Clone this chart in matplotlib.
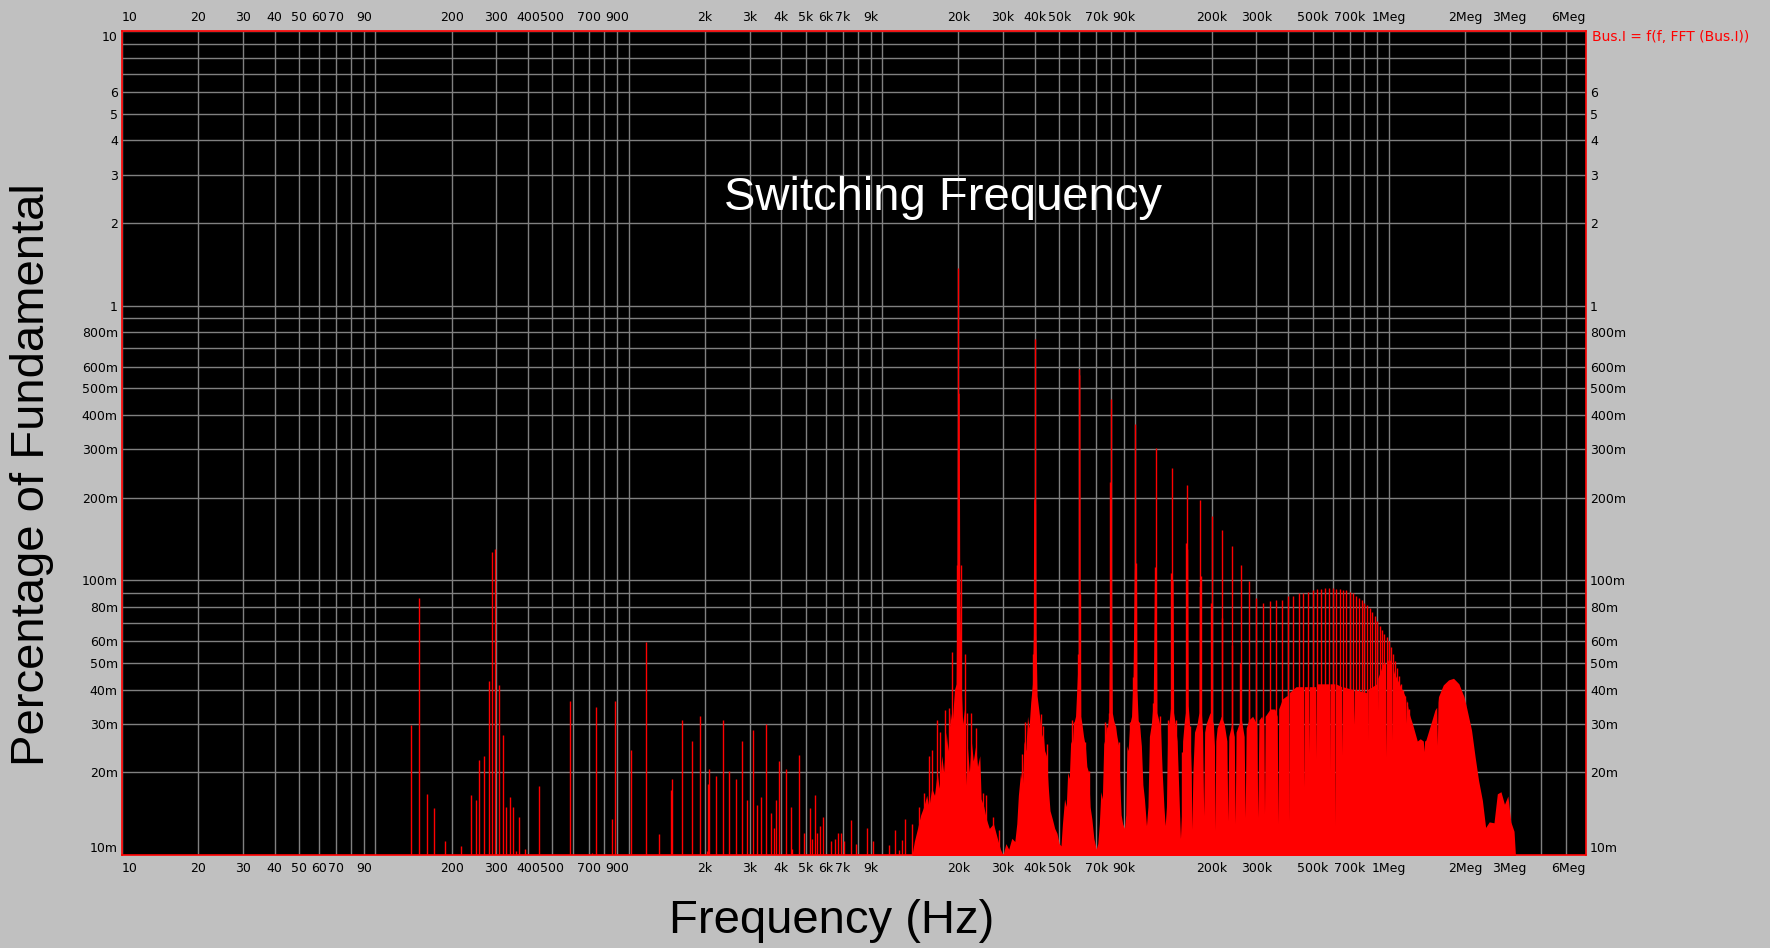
import numpy as np
import matplotlib.pyplot as plt
from matplotlib.ticker import FixedLocator, LogLocator, NullFormatter

# ---- data ----
# single lines below the switching band (Hz, fraction of fundamental)
low_freq = [138, 148.6, 160, 170.4, 188, 218.4, 238, 249, 256.5, 268.5, 280.6,
            289.3, 297.7, 307.7, 320.3, 329, 338.7, 348.8, 358, 368.5, 388.6,
            442.5, 586, 718, 742, 857, 885, 1022, 1171, 1319, 1462, 1480, 1620,
            1777, 1904, 2040, 2052, 2082, 2213, 2345, 2493, 2646, 2808, 2917,
            3080, 3196, 3340, 3485, 3640, 3750, 3810, 3925, 4163, 4360, 4400,
            4705, 4918, 5193, 5270, 5430, 5510, 5670, 5830, 6300, 6490, 6680,
            6880, 7090, 7510, 7860, 8700, 9220, 10660, 11200, 11700, 12000,
            12300, 13100, 13600, 14000, 14200, 14600, 14900]
low_mag = [0.0297, 0.086, 0.0167, 0.0148, 0.0112, 0.0108, 0.0165, 0.0158, 0.0222,
           0.0229, 0.0429, 0.127, 0.130, 0.0417, 0.0273, 0.015, 0.0163, 0.015,
           0.0103, 0.0138, 0.0105, 0.0179, 0.0364, 0.0102, 0.0345, 0.0135, 0.0364,
           0.0242, 0.0594, 0.0119, 0.0172, 0.0189, 0.0309, 0.0259, 0.0322, 0.0103,
           0.0181, 0.0205, 0.0194, 0.0309, 0.0202, 0.0189, 0.0259, 0.0158, 0.0285,
           0.0152, 0.0162, 0.0300, 0.0142, 0.0125, 0.0158, 0.0220, 0.0205, 0.0150,
           0.0105, 0.0232, 0.0120, 0.0148, 0.0114, 0.0165, 0.0120, 0.0127, 0.0138,
           0.0112, 0.0114, 0.0120, 0.0120, 0.0112, 0.0134, 0.0110, 0.0125, 0.0112,
           0.0109, 0.0123, 0.0104, 0.0113, 0.0135, 0.0130, 0.0113, 0.0150, 0.0135,
           0.0168, 0.0146]

# harmonics of the 20 kHz switching frequency (kHz)
harm_khz = [20, 40, 60, 80, 100, 120, 140, 160, 180, 200, 220, 240, 260, 280,
            300, 320, 340, 360, 380, 400, 420, 440, 460, 480, 500, 520, 540,
            560, 580, 600, 620, 640, 660, 680, 700, 720, 740, 760, 780, 800,
            820, 840, 860, 880, 900, 920, 940, 960, 980, 1000, 1020, 1040, 1060,
            1080, 1100, 1120, 1140, 1160, 1180, 1200]
harm_mag = [1.37, 0.758, 0.59, 0.457, 0.371, 0.304, 0.256, 0.222, 0.196, 0.172,
            0.152, 0.133, 0.114, 0.0997, 0.086, 0.0824, 0.084, 0.0845, 0.085,
            0.088, 0.088, 0.090, 0.090, 0.091, 0.092, 0.093, 0.093, 0.094, 0.094,
            0.094, 0.093, 0.093, 0.092, 0.092, 0.091, 0.090, 0.088, 0.086, 0.085,
            0.083, 0.081, 0.079, 0.077, 0.074, 0.071, 0.068, 0.066, 0.064, 0.062,
            0.060, 0.057, 0.054, 0.051, 0.048, 0.045, 0.042, 0.040, 0.038, 0.036,
            0.034]

# sideband lines around the harmonics (kHz)
side_khz = [15.3, 15.8, 16.5, 17.0, 17.7, 18.3, 18.8, 19.7, 20.4, 21.2, 21.7,
            22.5, 23.5, 25.1, 25.8, 27.5, 28.8, 35.5, 36.6, 39.3, 40.6, 42.4,
            43.3, 44.6, 56.3, 57.0, 59.3, 60.4, 63.4, 65.3, 76.1, 78.4, 79.3,
            83.3, 85.8, 95.4, 98.0, 100.7, 103.0, 117.0, 119.5, 125.0, 135.0,
            138.0, 144.0, 153.0, 158.5, 164.0, 180.8, 199.5, 219.5, 239.5,
            259.5, 279.5]
side_mag = [0.023, 0.0241, 0.031, 0.028, 0.0337, 0.0342, 0.055, 0.114, 0.114,
            0.054, 0.033, 0.033, 0.029, 0.0168, 0.0166, 0.0138, 0.0123, 0.0234,
            0.0305, 0.054, 0.0365, 0.0326, 0.0295, 0.0254, 0.031, 0.0305, 0.054,
            0.089, 0.0258, 0.0202, 0.0305, 0.033, 0.228, 0.0295, 0.0258, 0.0305,
            0.0445, 0.116, 0.0305, 0.0359, 0.112, 0.032, 0.031, 0.106, 0.031,
            0.0238, 0.137, 0.0295, 0.104, 0.083, 0.073, 0.058, 0.050, 0.040]

# outline of the solid (densely packed) part of the spectrum (kHz)
fill_khz = [
    # skirt around 20k
    13.0, 13.4, 13.8, 14.2, 14.6, 15.0, 15.3, 15.7, 16.1, 16.5, 16.8, 17.2,
    17.5, 17.9, 18.2, 18.6, 18.9, 19.3, 19.6, 19.75, 19.85, 20.15, 20.25, 20.5,
    20.8, 21.1, 21.4, 21.7, 22.1, 22.5, 22.9, 23.4, 23.8, 24.3, 24.6, 25.2,
    25.8, 26.5, 27.5, 28.5, 29.3, 30.0, 30.8, 31.6, 32.5, 33.4, 34.0,
    # 40k
    34.5, 35.2, 35.8, 36.3, 36.9, 37.5, 38.0, 38.6, 39.2, 39.5, 39.65, 40.35,
    40.5, 40.9, 41.5, 42.0, 42.6, 43.2, 43.8, 44.5, 45.2, 46.0, 47.0, 48.0,
    49.0, 50.0, 50.8,
    # 60k
    51.5, 52.5, 53.3, 54.0, 54.8, 55.5, 56.3, 57.0, 58.0, 59.0, 59.5, 59.65,
    60.3, 60.5, 60.8, 61.5, 62.4, 63.4, 64.3, 65.3, 66.2, 67.3, 68.5, 70.0, 71.0,
    # 80k
    72.0, 73.0, 74.0, 75.0, 75.8, 76.5, 77.5, 78.4, 79.0, 79.2, 80.3, 80.6,
    81.0, 82.0, 83.3, 84.5, 85.8, 86.8, 87.8, 89.0, 90.5,
    # 100k .. 180k
    91.5, 92.5, 93.5, 95.0, 96.5, 97.8, 99.0, 100.9, 101.3, 102.5, 104.0, 105.5,
    107.0, 108.5, 110.5, 112.0, 113.5, 115.5, 117.5, 118.8, 120.8, 121.5, 123.5,
    125.5, 127.5, 129.5, 131.0, 132.5, 134.0, 136.5, 137.8, 138.3, 140.8, 141.5,
    143.5, 146.0, 148.0, 150.5, 152.0, 153.5, 156.0, 157.5, 157.9, 160.8, 161.5,
    163.5, 166.0, 167.0, 168.5, 171.0, 175.0, 178.0, 178.6, 181.3, 182.0, 184.0,
    185.9,
    # 200k .. 1.2Meg
    187.5, 190, 197, 203, 205, 206.2, 207.5, 210, 218, 224, 229.5, 231.5, 233.5,
    240, 245.5, 247.5, 249.5, 256, 262, 268.5, 271, 273.5, 280, 290, 301, 304,
    307, 315, 321, 323, 325, 340, 355, 362.5, 365, 367.5, 380, 395, 399.5, 402,
    404.5, 430, 458, 461, 464, 481, 483, 485, 514, 516, 518, 580, 583, 586, 612,
    615, 618, 651, 654, 657, 723, 727, 731, 816, 821, 826, 895, 900, 905, 950,
    971, 977, 983, 1000, 1026, 1032, 1038, 1050, 1100, 1158, 1165, 1172, 1200,
    # roll-off and the 2Meg hump
    1240, 1295, 1330, 1368, 1376, 1384, 1400, 1480, 1520, 1545, 1554, 1563,
    1570, 1640, 1720, 1800, 1890, 1980, 2030, 2120, 2190, 2260, 2340, 2410,
    2490, 2600, 2680, 2770, 2860, 2950, 3030, 3120, 3160, 3170]
fill_mag = [
    0.0095, 0.0112, 0.0125, 0.0140, 0.0150, 0.0165, 0.0150, 0.0175, 0.0165,
    0.0200, 0.0175, 0.0230, 0.0200, 0.0280, 0.0240, 0.0330, 0.0300, 0.0400,
    0.0420, 0.1000, 0.4800, 0.4800, 0.1000, 0.0420, 0.0300, 0.0340, 0.0180,
    0.0250, 0.0200, 0.0260, 0.0220, 0.0250, 0.0210, 0.0230, 0.0160, 0.0150,
    0.0135, 0.0125, 0.0130, 0.0115, 0.0105, 0.0100, 0.0110, 0.0105, 0.0115,
    0.0112, 0.0130,
    0.0165, 0.0200, 0.0180, 0.0260, 0.0240, 0.0320, 0.0290, 0.0360, 0.0420,
    0.0640, 0.2000, 0.1900, 0.0640, 0.0380, 0.0340, 0.0310, 0.0270, 0.0280,
    0.0240, 0.0230, 0.0180, 0.0145, 0.0135, 0.0125, 0.0120, 0.0110, 0.0108,
    0.0130, 0.0160, 0.0150, 0.0200, 0.0190, 0.0260, 0.0250, 0.0300, 0.0320,
    0.0450, 0.0540, 0.5600, 0.5600, 0.0890, 0.0320, 0.0300, 0.0270, 0.0250,
    0.0210, 0.0200, 0.0150, 0.0135, 0.0115, 0.0105, 0.0110,
    0.0130, 0.0170, 0.0160, 0.0260, 0.0250, 0.0300, 0.0290, 0.0320, 0.0600,
    0.2200, 0.2200, 0.0600, 0.0330, 0.0310, 0.0295, 0.0270, 0.0250, 0.0180,
    0.0140, 0.0130, 0.0125,
    0.0140, 0.0250, 0.0240, 0.0300, 0.0320, 0.0440, 0.1100, 0.1100, 0.0400,
    0.0310, 0.0290, 0.0250, 0.0180, 0.0160, 0.0128, 0.0150, 0.0270, 0.0300,
    0.0360, 0.1000, 0.1000, 0.0330, 0.0310, 0.0290, 0.0200, 0.0150, 0.0128,
    0.0150, 0.0280, 0.0320, 0.0350, 0.1000, 0.1000, 0.0330, 0.0300, 0.0260,
    0.0180, 0.0115, 0.0140, 0.0260, 0.0310, 0.0330, 0.1300, 0.1300, 0.0350,
    0.0300, 0.0200, 0.0124, 0.0200, 0.0280, 0.0300, 0.0330, 0.0950, 0.0950,
    0.0330, 0.0280, 0.0139,
    0.0280, 0.0300, 0.0330, 0.0300, 0.0250, 0.0123, 0.0260, 0.0290, 0.0320,
    0.0300, 0.0260, 0.0133, 0.0270, 0.0300, 0.0270, 0.0130, 0.0280, 0.0300,
    0.0310, 0.0270, 0.0137, 0.0290, 0.0310, 0.0320, 0.0300, 0.0137, 0.0310,
    0.0320, 0.0300, 0.0141, 0.0320, 0.0340, 0.0340, 0.0320, 0.0130, 0.0340,
    0.0370, 0.0380, 0.0380, 0.0133, 0.0390, 0.0410, 0.0410, 0.0177, 0.0410,
    0.0410, 0.0234, 0.0410, 0.0410, 0.0225, 0.0420, 0.0420, 0.0193, 0.0420,
    0.0420, 0.0128, 0.0420, 0.0410, 0.0231, 0.0410, 0.0400, 0.0298, 0.0400,
    0.0390, 0.0158, 0.0400, 0.0420, 0.0277, 0.0440, 0.0500, 0.0500, 0.0228,
    0.0500, 0.0520, 0.0500, 0.0262, 0.0480, 0.0460, 0.0420, 0.0380, 0.0302,
    0.0370, 0.0330,
    0.0300, 0.0260, 0.0265, 0.0260, 0.0238, 0.0260, 0.0262, 0.0310, 0.0337,
    0.0345, 0.0251, 0.0360, 0.0377, 0.0416, 0.0434, 0.0440, 0.0420, 0.0377,
    0.0342, 0.0285, 0.0228, 0.0187, 0.0158, 0.0126, 0.0132, 0.0131, 0.0167,
    0.0170, 0.0153, 0.0164, 0.0132, 0.0122, 0.0100, 0.0090]

x_ticks = [10, 20, 30, 40, 50, 60, 70, 90, 200, 300, 400, 500, 700, 900,
           2e3, 3e3, 4e3, 5e3, 6e3, 7e3, 9e3, 2e4, 3e4, 4e4, 5e4, 7e4, 9e4,
           2e5, 3e5, 5e5, 7e5, 1e6, 2e6, 3e6, 6e6]
x_labels = ['10', '20', '30', '40', '50', '60', '70', '90', '200', '300', '400',
            '500', '700', '900', '2k', '3k', '4k', '5k', '6k', '7k', '9k', '20k',
            '30k', '40k', '50k', '70k', '90k', '200k', '300k', '500k', '700k',
            '1Meg', '2Meg', '3Meg', '6Meg']
y_ticks = [0.01, 0.02, 0.03, 0.04, 0.05, 0.06, 0.08, 0.1, 0.2, 0.3, 0.4, 0.5,
           0.6, 0.8, 1, 2, 3, 4, 5, 6, 10]
y_labels = ['10m', '20m', '30m', '40m', '50m', '60m', '80m', '100m', '200m',
            '300m', '400m', '500m', '600m', '800m', '1', '2', '3', '4', '5',
            '6', '10']

RED = '#ff0000'
GRID = '#808080'
W, H = 1770, 948

fig = plt.figure(figsize=(W / 100, H / 100), dpi=100, facecolor='#c0c0c0')
ax = fig.add_axes([122 / W, 1 - 855 / H, 1464 / W, 824 / H])
ax.set_facecolor('black')
ax.set_xscale('log')
ax.set_yscale('log')
ax.set_xlim(10, 6e6)
ax.set_ylim(0.01, 10)

# spectrum
base = 0.005
ax.fill_between(np.array(fill_khz) * 1e3, base, fill_mag, color=RED, lw=0, zorder=3)
ax.vlines(low_freq, base, low_mag, colors=RED, lw=1.0, zorder=3)
ax.vlines(np.array(side_khz) * 1e3, base, side_mag, colors=RED, lw=1.0, zorder=3)
ax.vlines(np.array(harm_khz) * 1e3, base, harm_mag, colors=RED, lw=1.0, zorder=3)

# grid and ticks
ax.xaxis.set_major_locator(FixedLocator(x_ticks))
ax.xaxis.set_minor_locator(LogLocator(base=10, subs=np.arange(1, 10), numticks=100))
ax.xaxis.set_minor_formatter(NullFormatter())
ax.set_xticks(x_ticks, x_labels)
ax.yaxis.set_major_locator(FixedLocator(y_ticks))
ax.yaxis.set_minor_locator(LogLocator(base=10, subs=np.arange(1, 10), numticks=100))
ax.yaxis.set_minor_formatter(NullFormatter())
ax.set_yticks(y_ticks, y_labels)
ax.grid(True, which='both', color=GRID, lw=1.0, zorder=1)
ax.set_axisbelow(True)

ax.tick_params(axis='both', which='both', length=0, labelsize=9)
ax.tick_params(axis='x', top=True, labeltop=True, labelbottom=True, pad=5)
ax.tick_params(axis='y', left=True, right=True, labelleft=True, labelright=True, pad=3)

xt = ax.xaxis.get_major_ticks()
for lab in (xt[0].label1, xt[0].label2):
    lab.set_ha('left')
for lab in (xt[-1].label1, xt[-1].label2):
    lab.set_ha('right')
yt = ax.yaxis.get_major_ticks()
for lab in (yt[0].label1, yt[0].label2):
    lab.set_va('bottom')
yt[-1].label1.set_va('top')
yt[-1].label2.set_visible(False)  # trace name sits there instead

for sp in ax.spines.values():
    sp.set_color(RED)
    sp.set_linewidth(1.2)
    sp.set_zorder(5)

ax.text(0.561, 0.797, 'Switching Frequency', transform=ax.transAxes, color='white',
        fontsize=34, family='Liberation Sans', ha='center', va='center', zorder=6)
fig.text(1592 / W, 1 - 37 / H, 'Bus.I = f(f, FFT (Bus.I))', color=RED,
         fontsize=10, ha='left', va='center')
fig.text(832 / W, 1 - 921 / H, 'Frequency (Hz)', fontsize=34,
         family='Liberation Sans', ha='center', va='center')
fig.text(32 / W, 1 - 475 / H, 'Percentage of Fundamental', fontsize=34,
         family='Liberation Sans', ha='center', va='center', rotation=90)

fig.savefig('out.png', dpi=100, facecolor=fig.get_facecolor())
